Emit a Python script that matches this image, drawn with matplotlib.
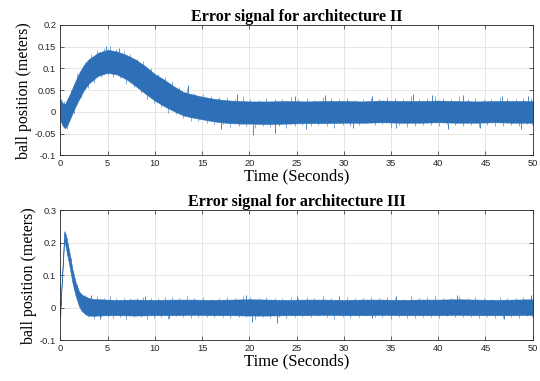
import numpy as np
import matplotlib
matplotlib.use("Agg")
import matplotlib.pyplot as plt

# envelope of the noisy error signal, architecture II
t_top = [0, 0.25, 0.5, 0.75, 1, 1.5, 2, 2.5, 3, 4, 5, 6, 7, 8, 9, 10, 11, 12, 13,
         14, 15, 16, 17, 18, 19, 20, 22, 24, 26, 28, 30, 32, 34, 36, 38, 40, 42,
         44, 46, 48, 50]
top_upper = [0.03, 0.02, 0.018, 0.03, 0.04, 0.066, 0.09, 0.108, 0.121, 0.136, 0.143,
             0.139, 0.131, 0.12, 0.105, 0.087, 0.074, 0.059, 0.046, 0.04, 0.035, 0.031,
             0.028, 0.026, 0.025, 0.024, 0.024, 0.025, 0.024, 0.025, 0.025, 0.024,
             0.026, 0.025, 0.025, 0.026, 0.025, 0.024, 0.025, 0.025, 0.025]
top_lower = [-0.02, -0.032, -0.038, -0.03, -0.018, 0.008, 0.03, 0.05, 0.065, 0.083,
             0.09, 0.086, 0.075, 0.059, 0.042, 0.026, 0.013, 0.002, -0.008, -0.013,
             -0.017, -0.021, -0.024, -0.026, -0.027, -0.027, -0.028, -0.027, -0.026,
             -0.026, -0.025, -0.025, -0.024, -0.025, -0.025, -0.024, -0.025, -0.025,
             -0.024, -0.025, -0.025]
top_spike_t = [1.3, 4.8, 6.2, 13.5, 18.7, 24.8, 28.0, 33.0, 37.3, 39.3, 42.6, 46.7, 49.5,
               17.0, 20.4, 22.7, 26.0, 31.0, 35.5, 41.0, 44.4, 48.8]
top_spike_v = [0.055, 0.152, 0.147, 0.062, 0.04, 0.037, 0.038, 0.036, 0.04, 0.038, 0.039,
               0.037, 0.036, -0.04, -0.053, -0.049, -0.04, -0.038, -0.037, -0.04, -0.038,
               -0.04]

# envelope for architecture III
t_bot = [0, 0.01, 0.42, 0.6, 0.95, 1.3, 1.65, 2.0, 2.35, 2.7, 3.0, 3.5, 4, 5, 6, 8, 10,
         12, 14, 16, 18, 20, 22, 24, 26, 28, 30, 32, 34, 36, 38, 40, 42, 44, 46, 48, 50]
bot_upper = [0.02, 0.005, 0.235, 0.223, 0.172, 0.116, 0.075, 0.049, 0.039, 0.034, 0.03,
             0.027, 0.026, 0.025, 0.024, 0.025, 0.024, 0.025, 0.025, 0.024, 0.025, 0.026,
             0.025, 0.024, 0.025, 0.025, 0.024, 0.025, 0.025, 0.024, 0.025, 0.025, 0.026,
             0.025, 0.024, 0.025, 0.026]
bot_lower = [-0.025, -0.003, 0.21, 0.182, 0.131, 0.075, 0.034, 0.003, -0.012, -0.021,
             -0.024, -0.025, -0.024, -0.023, -0.023, -0.024, -0.023, -0.023, -0.022,
             -0.023, -0.023, -0.024, -0.024, -0.023, -0.023, -0.022, -0.023, -0.023,
             -0.022, -0.023, -0.023, -0.023, -0.022, -0.023, -0.023, -0.023, -0.022]
bot_spike_t = [3.2, 9.0, 19.7, 25.0, 29.5, 35.5, 42.0, 49.8,
               4.2, 11.5, 20.3, 22.9, 33.0, 47.0]
bot_spike_v = [0.038, 0.036, 0.038, 0.036, 0.037, 0.036, 0.04, 0.04,
               -0.035, -0.032, -0.045, -0.047, -0.033, -0.034]

# small fuzz beyond the band edges (times and overshoot past the envelope)
fuzz_up_t = [0.4, 1.1, 1.8, 2.6, 3.3, 3.9, 4.6, 5.3, 5.9, 6.7, 7.4, 8.1, 8.8, 9.6, 10.3,
             11.1, 11.8, 12.6, 13.4, 14.2, 15.1, 15.9, 16.8, 17.6, 18.5, 19.3, 20.1, 21.0,
             21.8, 22.7, 23.5, 24.4, 25.2, 26.1, 26.9, 27.8, 28.6, 29.5, 30.3, 31.2, 32.0,
             32.9, 33.7, 34.6, 35.4, 36.3, 37.1, 38.0, 38.8, 39.7, 40.5, 41.4, 42.2, 43.1,
             43.9, 44.8, 45.6, 46.5, 47.3, 48.2, 49.0, 49.8]
fuzz_dn_t = [0.7, 1.4, 2.2, 2.9, 3.6, 4.3, 5.0, 5.6, 6.3, 7.0, 7.8, 8.5, 9.2, 9.9, 10.7,
             11.4, 12.2, 13.0, 13.8, 14.6, 15.5, 16.3, 17.2, 18.0, 18.9, 19.7, 20.6, 21.4,
             22.2, 23.1, 23.9, 24.8, 25.6, 26.5, 27.3, 28.2, 29.0, 29.9, 30.7, 31.6, 32.4,
             33.3, 34.1, 35.0, 35.8, 36.7, 37.5, 38.4, 39.2, 40.1, 40.9, 41.8, 42.6, 43.5,
             44.3, 45.2, 46.0, 46.9, 47.7, 48.6, 49.4, 49.95]
fuzz_dv = [0.006, 0.004, 0.008, 0.005, 0.007, 0.009, 0.006, 0.010, 0.005, 0.007, 0.006,
           0.004, 0.008, 0.006, 0.005, 0.007, 0.009, 0.006, 0.012, 0.005, 0.007, 0.004,
           0.006, 0.008, 0.005, 0.011, 0.006, 0.004, 0.007, 0.005, 0.006, 0.009, 0.005,
           0.007, 0.004, 0.010, 0.006, 0.005, 0.008, 0.004, 0.006, 0.007, 0.005, 0.009,
           0.006, 0.004, 0.012, 0.005, 0.007, 0.010, 0.006, 0.004, 0.011, 0.005, 0.007,
           0.006, 0.004, 0.009, 0.006, 0.005, 0.008, 0.007]

titles = ["Error signal for architecture II", "Error signal for architecture III"]
xticks = [0, 5, 10, 15, 20, 25, 30, 35, 40, 45, 50]
yticks_top = [-0.1, -0.05, 0, 0.05, 0.1, 0.15, 0.2]
yticks_bot = [-0.1, 0, 0.1, 0.2, 0.3]

blue = "#2d70b7"
serif = "Liberation Serif"
sans = "Liberation Sans"

fig = plt.figure(figsize=(5.4, 3.81), dpi=100)
ax1 = fig.add_axes([0.1117, 0.5924, 0.8748, 0.342])
ax2 = fig.add_axes([0.1117, 0.1068, 0.8748, 0.342])


def draw(ax, t, up, lo, st, sv, yticks, ylim, title):
    ax.fill_between(t, lo, up, color=blue, lw=0.4, edgecolor=blue)
    t = np.asarray(t)
    st = np.asarray(st)
    sv = np.asarray(sv)
    base = np.where(sv > 0, np.interp(st, t, up), np.interp(st, t, lo))
    ax.vlines(st, base, sv, color=blue, lw=0.6)

    # fuzzy edges
    dv = np.asarray(fuzz_dv)
    up_at = np.interp(fuzz_up_t, t, up)
    lo_at = np.interp(fuzz_dn_t, t, lo)
    ax.vlines(fuzz_up_t, up_at - 0.004, up_at + dv, color=blue, lw=0.5, alpha=0.8)
    ax.vlines(fuzz_dn_t, lo_at + 0.004, lo_at - dv[::-1], color=blue, lw=0.5, alpha=0.8)

    ax.set_xlim(0, 50)
    ax.set_ylim(*ylim)
    ax.set_xticks(xticks)
    ax.set_xticklabels([str(v) for v in xticks])
    ax.set_yticks(yticks)
    ax.set_yticklabels(["0" if v == 0 else f"{v:g}" for v in yticks])
    ax.grid(True, color="#e2e2e2", lw=0.6)
    ax.set_axisbelow(True)
    ax.tick_params(direction="in", length=3, width=0.5, top=True, right=True,
                   labelsize=6.7, colors="#262626", pad=3)
    for lab in ax.get_xticklabels() + ax.get_yticklabels():
        lab.set_fontfamily(sans)
    for s in ax.spines.values():
        s.set_linewidth(0.6)
        s.set_color("#262626")
    ax.set_title(title, fontfamily=serif, fontweight="bold", fontsize=11.5, pad=3)
    ax.set_xlabel("Time (Seconds)", fontfamily=serif, fontsize=12, labelpad=0)
    ax.set_ylabel("ball position (meters)", fontfamily=serif, fontsize=11.5, labelpad=2)


draw(ax1, t_top, top_upper, top_lower, top_spike_t, top_spike_v, yticks_top, (-0.1, 0.2), titles[0])
draw(ax2, t_bot, bot_upper, bot_lower, bot_spike_t, bot_spike_v, yticks_bot, (-0.1, 0.3), titles[1])

fig.savefig("out.png", dpi=100)
